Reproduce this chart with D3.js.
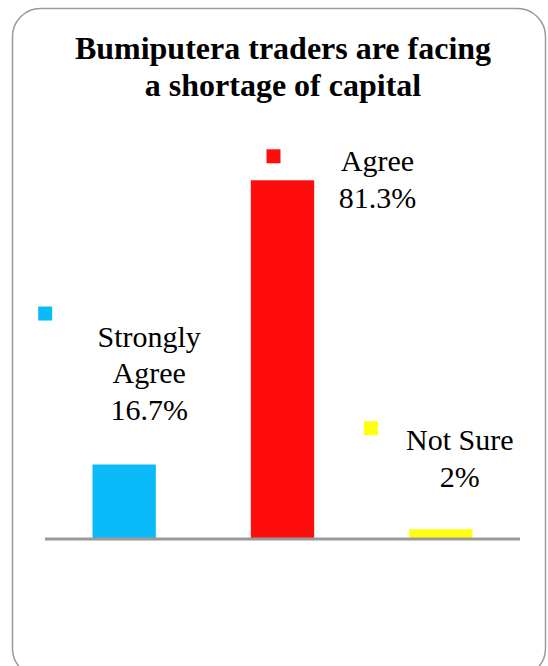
<!DOCTYPE html>
<html>
<head>
<meta charset="utf-8">
<style>
body { margin: 0; background: #fff; }
svg { display: block; }
</style>
<script src="https://cdn.jsdelivr.net/npm/d3@7/dist/d3.min.js"></script>
</head>
<body>
<div id="chart"></div>
<script>
// data
var categories = ["Strongly Agree", "Agree", "Not Sure"];
var labelLines = [["Strongly", "Agree"], ["Agree"], ["Not Sure"]];
var percents = [16.7, 81.3, 2];
var colors = ["#0bbaf8", "#ff0c0c", "#ffff0f"];
var titleLines = ["Bumiputera traders are facing", "a shortage of capital"];

// layout of data labels (offset from bar centre / bar top) and marker squares
var labelOffset = [[25, -118], [95, -9], [19, -79]];
var markerOffset = [[-111, -40], [-111, -22], [-96, -29]];

var FONT = "'Liberation Serif', 'Times New Roman', Times, serif";

var W = 548, H = 666;
var svg = d3.select("#chart").append("svg")
    .attr("width", W).attr("height", H);

svg.append("rect")
    .attr("x", 12.5).attr("y", 8.5)
    .attr("width", 533).attr("height", 668)
    .attr("rx", 28).attr("ry", 28)
    .attr("fill", "#fff")
    .attr("stroke", "#9a9a9a").attr("stroke-width", 1.5);

var title = svg.append("text")
    .attr("text-anchor", "middle")
    .style("font-family", FONT)
    .style("font-size", "32px").style("font-weight", "bold");
title.selectAll("tspan").data(titleLines).enter().append("tspan")
    .attr("x", 283)
    .attr("y", function(d, i) { return 59 + i * 37; })
    .text(function(d) { return d; });

var x = d3.scaleBand().domain(categories).range([45, 520]).paddingInner(0.6).paddingOuter(0.3);
var y = d3.scaleLinear().domain([0, 100]).range([538, 98]);

svg.selectAll("rect.bar").data(categories).enter().append("rect")
    .attr("class", "bar")
    .attr("x", function(d) { return x(d); })
    .attr("width", x.bandwidth())
    .attr("y", function(d, i) { return y(percents[i]); })
    .attr("height", function(d, i) { return y(0) - y(percents[i]); })
    .attr("fill", function(d, i) { return colors[i]; });

svg.append("line")
    .attr("x1", 45).attr("x2", 520)
    .attr("y1", y(0) + 1).attr("y2", y(0) + 1)
    .attr("stroke", "#999").attr("stroke-width", 3);

categories.forEach(function(c, i) {
  var cx = x(c) + x.bandwidth() / 2 + labelOffset[i][0];
  var top = y(percents[i]) + labelOffset[i][1];
  var lines = labelLines[i].concat([percents[i] + "%"]);
  var t = svg.append("text").attr("text-anchor", "middle")
      .style("font-family", FONT).style("font-size", "30px");
  t.selectAll("tspan").data(lines).enter().append("tspan")
      .attr("x", cx)
      .attr("y", function(d, j) { return top + j * 36.5; })
      .text(function(d) { return d; });
  svg.append("rect")
      .attr("x", cx + markerOffset[i][0])
      .attr("y", top + markerOffset[i][1])
      .attr("width", 14).attr("height", 14)
      .attr("fill", colors[i]);
});
</script>
</body>
</html>
